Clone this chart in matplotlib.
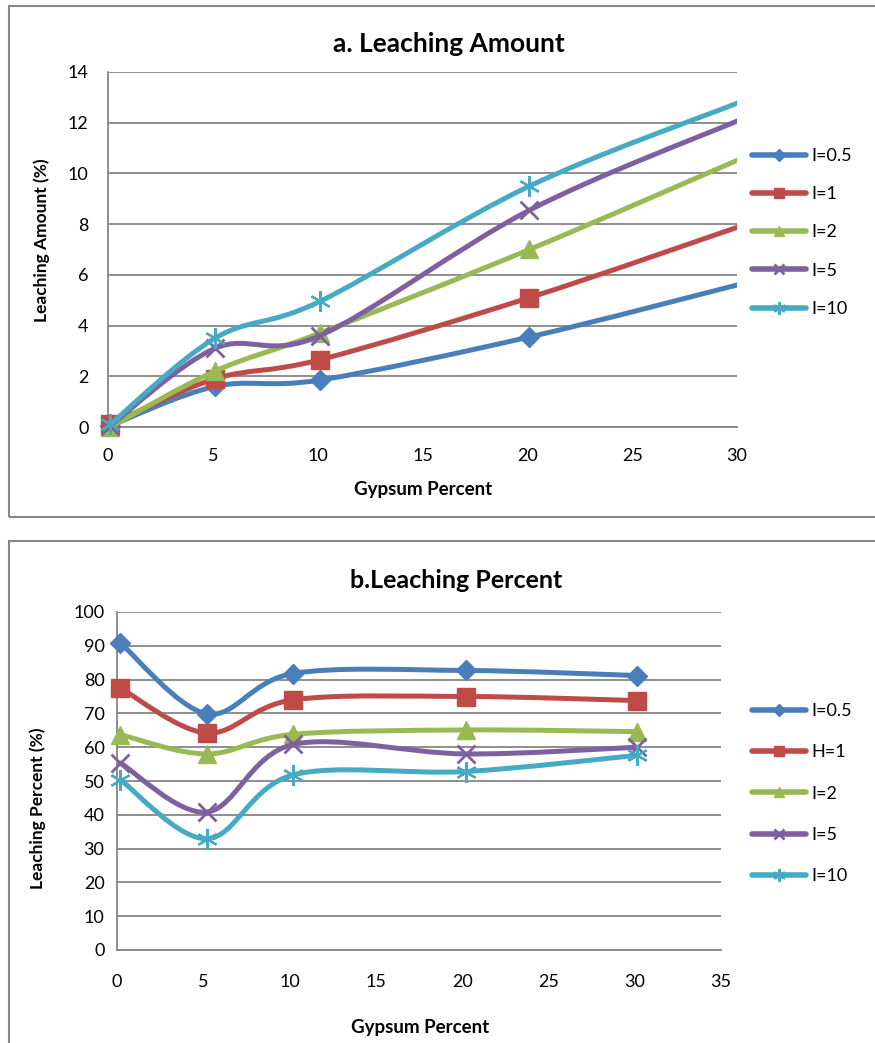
import numpy as np
import matplotlib
matplotlib.use("Agg")
import matplotlib.pyplot as plt
from matplotlib.lines import Line2D
from matplotlib.patches import Rectangle, PathPatch
from matplotlib.path import Path

plt.rcParams["font.family"] = ["Lato", "DejaVu Sans"]

W, H = 875, 1043

# ---- data ----
labels_a = ["I=0.5", "I=1", "I=2", "I=5", "I=10"]
labels_b = ["I=0.5", "H=1", "I=2", "I=5", "I=10"]
gypsum_a = [0.1, 5.1, 10.1, 20.1, 30.1]
gypsum_b = [0.2, 5.2, 10.2, 20.2, 30.15]

amount_05 = [0.05, 1.6, 1.85, 3.55, 5.62]
amount_1 = [0.1, 1.9, 2.65, 5.1, 7.9]
amount_2 = [0.0, 2.2, 3.7, 7.0, 10.55]
amount_5 = [0.05, 3.1, 3.6, 8.55, 12.1]
amount_10 = [0.1, 3.5, 4.95, 9.5, 12.8]

percent_05 = [90.8, 69.9, 81.8, 82.7, 81.2]
percent_1 = [77.5, 64.2, 74.0, 75.0, 73.8]
percent_2 = [63.7, 58.0, 63.8, 65.1, 64.6]
percent_5 = [55.3, 40.8, 60.8, 58.0, 60.0]
percent_10 = [50.3, 32.9, 51.8, 52.8, 57.6]

colors = ["#4A7EBB", "#BE4B48", "#98B954", "#7D60A0", "#46AAC5"]
markers = [("D", 10, 1), ("s", 13, 1), ("^", 13, 1), ("x", 13, 2), ((6, 2, 0), 15, 1.6)]
GRID = "#868686"


def px(x, y):
    return x / W, 1 - y / H


def smooth_path(x, y):
    # Excel-style smoothed line: cubic Bezier through the points
    P = np.column_stack([x, y]).astype(float)
    Q = np.vstack([P[:1], P, P[-1:]])
    verts = [P[0]]
    codes = [Path.MOVETO]
    for i in range(len(P) - 1):
        c1 = P[i] + (Q[i + 2] - Q[i]) / 6
        c2 = P[i + 1] - (Q[i + 3] - Q[i + 1]) / 6
        verts += [c1, c2, P[i + 1]]
        codes += [Path.CURVE4] * 3
    return Path(verts, codes)


def draw_panel(ax, xs, series, xmax, ymax, ystep, xtick_pad, ytick_pad):
    for i, ys in enumerate(series):
        z = 3 + i * 0.1
        ax.add_patch(PathPatch(smooth_path(xs, ys), fill=False, edgecolor=colors[i],
                               lw=3.6, capstyle="round", joinstyle="round", zorder=z))
        xv = np.array(xs)
        keep = xv <= xmax
        m, ms, mew = markers[i]
        ax.plot(xv[keep], np.array(ys)[keep], ls="none", marker=m, ms=ms, mew=mew,
                color=colors[i], mec=colors[i], zorder=z + 0.05, clip_on=False)
    ax.set_xlim(0, xmax)
    ax.set_ylim(0, ymax)
    ax.set_xticks(np.arange(0, xmax + 1, 5))
    ax.set_yticks(np.arange(0, ymax + 1, ystep))
    ax.yaxis.grid(True, color=GRID, lw=1.3)
    ax.set_axisbelow(True)
    for s in ["top", "right"]:
        ax.spines[s].set_visible(False)
    for s in ["left", "bottom"]:
        ax.spines[s].set_color(GRID)
        ax.spines[s].set_linewidth(1.3)
    ax.tick_params(axis="x", length=0, labelsize=13, pad=xtick_pad)
    ax.tick_params(axis="y", length=0, labelsize=13, pad=ytick_pad)


fig = plt.figure(figsize=(W / 100, H / 100), dpi=100)

# chart borders
fig.patches.append(Rectangle(px(9, 517), (W + 10) / W, (517 - 6) / H, transform=fig.transFigure,
                             fill=False, edgecolor=GRID, lw=1.5))
fig.patches.append(Rectangle(px(9, H + 10), (W + 10) / W, (H + 10 - 541) / H, transform=fig.transFigure,
                             fill=False, edgecolor=GRID, lw=1.5))

# ---- panel a ----
ax1 = fig.add_axes([108 / W, 1 - 427 / H, (737 - 108) / W, (427 - 72) / H])
draw_panel(ax1, gypsum_a, [amount_05, amount_1, amount_2, amount_5, amount_10], 30, 14, 2, 15, 14)
fig.text(*px(449, 44), "a. Leaching Amount", ha="center", va="center", fontsize=19, fontweight="bold")
fig.text(*px(42, 240), "Leaching Amount (%)", ha="center", va="center", rotation=90,
         fontsize=12.5, fontweight="bold")
fig.text(*px(423, 489), "Gypsum Percent", ha="center", va="center", fontsize=13.5, fontweight="bold")

# ---- panel b ----
ax2 = fig.add_axes([117 / W, 1 - 950 / H, (721 - 117) / W, (950 - 612) / H])
draw_panel(ax2, gypsum_b, [percent_05, percent_1, percent_2, percent_5, percent_10], 35, 100, 10, 17, 9)
fig.text(*px(456, 580), "b.Leaching Percent", ha="center", va="center", fontsize=18, fontweight="bold")
fig.text(*px(38, 808), "Leaching Percent (%)", ha="center", va="center", rotation=90,
         fontsize=12.5, fontweight="bold")
fig.text(*px(420, 1028), "Gypsum Percent", ha="center", va="center", fontsize=13.5, fontweight="bold")


def legend_handles():
    hs = []
    for i in range(5):
        m, ms, mew = markers[i]
        hs.append(Line2D([0], [0], color=colors[i], lw=4, solid_capstyle="round",
                         marker=m, ms=ms * 0.6, mew=mew, mec=colors[i]))
    return hs


ax1.legend(legend_handles(), labels_a, loc="upper left", bbox_to_anchor=px(752, 148),
           bbox_transform=fig.transFigure, frameon=False, fontsize=13, handlelength=3.0,
           handletextpad=0.3, labelspacing=1.23, borderpad=0, borderaxespad=0)
ax2.legend(legend_handles(), labels_b, loc="upper left", bbox_to_anchor=px(752, 703),
           bbox_transform=fig.transFigure, frameon=False, fontsize=13, handlelength=3.0,
           handletextpad=0.3, labelspacing=1.4, borderpad=0, borderaxespad=0)

fig.savefig("out.png", dpi=100)
plt.close(fig)
print("saved out.png")
